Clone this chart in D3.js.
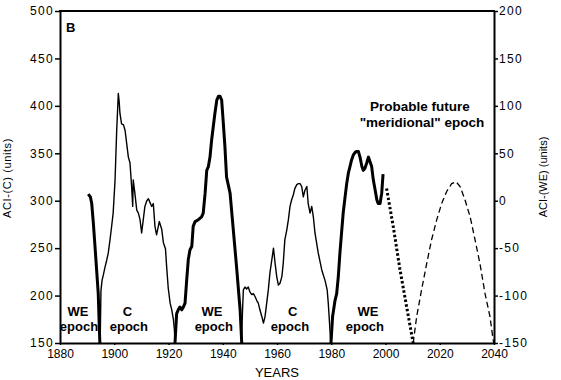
<!DOCTYPE html>
<html>
<head>
<meta charset="utf-8">
<script src="https://cdn.jsdelivr.net/npm/d3@7"></script>
<style>
  html, body { margin: 0; padding: 0; background: #fff; }
  svg { display: block; }
</style>
</head>
<body>
<svg id="chart" width="561" height="380"></svg>
<script>
// ---------- DATA ----------
// ACI-(C) series, left axis units
const cSeries1 = [
  [1894.8,150],[1895.1,205],[1895.5,216],[1896.0,222],[1896.6,230],[1897.2,237],[1897.8,245],
  [1898.4,258],[1899.0,272],[1899.6,287],[1900.3,322],[1900.9,374],[1901.3,400],[1901.5,413],
  [1901.8,405],[1902.1,392],[1902.7,381],[1903.4,380],[1904.0,374],[1904.6,360],[1905.2,346],
  [1905.8,340],[1906.4,315],[1906.8,294],[1907.0,322],[1907.3,315],[1907.6,308],[1908.3,290],
  [1908.9,287],[1909.5,280],[1910.1,266],[1910.7,280],[1911.3,294],[1912.0,300],[1912.6,302],
  [1913.2,298],[1913.8,294],[1914.4,297],[1915.0,273],[1915.6,264],[1916.6,278],[1917.5,270],
  [1918.1,256],[1918.9,249],[1919.3,231],[1919.9,208],[1920.6,192],[1921.2,185],[1921.8,175],
  [1922.2,163],[1922.4,150]
];
const cSeries2 = [
  [1946.9,150],[1947.3,185],[1947.6,206],[1948.2,209],[1948.8,207],[1949.4,209],[1950.0,204],
  [1950.7,201],[1951.3,202],[1951.9,199],[1952.5,195],[1953.1,192],[1953.7,185],[1954.4,178],
  [1955.0,171],[1955.6,178],[1956.2,192],[1956.8,206],[1957.4,224],[1958.1,238],[1958.7,250],
  [1959.3,234],[1959.9,220],[1960.5,211],[1961.1,213],[1961.8,220],[1962.3,234],[1962.9,259],
  [1963.6,269],[1964.2,280],[1964.8,294],[1965.4,301],[1966.0,306],[1966.6,313],[1967.3,317],
  [1967.9,318],[1968.5,318],[1969.1,315],[1969.7,304],[1970.3,311],[1971.0,315],[1971.5,297],
  [1972.2,287],[1972.8,294],[1973.4,283],[1974.0,266],[1975.2,245],[1976.5,227],[1977.7,216],
  [1978.5,206],[1978.9,192],[1979.3,174],[1979.8,150]
];
// ACI-(WE) series, right axis units
const weSeries1 = [
  [1890.4,7],[1891.2,4],[1891.7,-3],[1892.3,-24],[1892.9,-48],[1893.5,-73],[1894.1,-98],
  [1894.5,-135],[1894.7,-150]
];
const weSeries2 = [
  [1922.4,-150],[1923.0,-119],[1923.6,-115],[1924.2,-112],[1924.9,-115],[1925.5,-112],
  [1926.1,-108],[1926.7,-84],[1927.3,-62],[1927.9,-52],[1928.6,-48],[1929.1,-27],[1929.8,-22],
  [1931.0,-20],[1932.2,-17],[1932.8,-13],[1933.5,8],[1934.1,32],[1934.7,36],[1935.3,46],
  [1935.9,64],[1936.5,78],[1937.1,92],[1937.8,106],[1938.4,110],[1939.0,110],[1939.6,106],
  [1940.2,82],[1940.8,57],[1941.4,25],[1942.7,8],[1943.9,-31],[1945.1,-70],[1946.4,-115],
  [1947.0,-150]
];
const weSeries3 = [
  [1979.9,-150],[1980.5,-122],[1981.4,-105],[1982.0,-98],[1982.6,-80],[1983.2,-55],[1983.8,-34],
  [1984.4,-13],[1985.1,4],[1985.7,18],[1986.3,29],[1986.9,36],[1987.5,43],[1988.1,48],
  [1988.8,51],[1989.4,52],[1990.0,52],[1990.6,46],[1991.3,36],[1991.8,32],[1992.4,34],
  [1993.1,40],[1993.7,46],[1994.3,41],[1994.9,36],[1995.5,22],[1996.2,11],[1996.8,1],
  [1997.3,-3],[1998.0,-3],[1998.6,8],[1999.1,28]
];
const weDotted = [
  [2000.4,13],[2002.9,-28],[2005.3,-72],[2007.8,-112],[2010.2,-150]
];
const weDashed = [
  [2010.2,-150],[2011.5,-122],[2013.3,-94],[2015.2,-66],[2017.0,-41],[2018.9,-20],[2020.7,-3],
  [2022.6,10],[2024.4,18],[2026.0,20],[2027.5,15],[2029.3,1],[2031.2,-17],[2033.0,-41],
  [2034.8,-66],[2036.7,-98],[2038.5,-122],[2039.7,-147],[2039.9,-150]
];
const xTicks = [1880,1900,1920,1940,1960,1980,2000,2020,2040];
const yLeftTicks = [150,200,250,300,350,400,450,500];
const yRightTicks = [-150,-100,-50,0,50,100,150,200];
const epochLabels = [
  {top:"WE", bottom:"epoch", x:1886.6, xb:1887.0},
  {top:"C", bottom:"epoch", x:1904.9, xb:1905.4},
  {top:"WE", bottom:"epoch", x:1936.0, xb:1936.7},
  {top:"C", bottom:"epoch", x:1965.8, xb:1964.8},
  {top:"WE", bottom:"epoch", x:1993.5, xb:1992.4}
];

// ---------- LAYOUT ----------
const svg = d3.select("#chart");
const L = 60, R = 494, T = 11, B = 343;
const x = d3.scaleLinear().domain([1880,2040]).range([L,R]);
const yL = d3.scaleLinear().domain([150,500]).range([B,T]);
const yR = d3.scaleLinear().domain([-150,200]).range([B,T]);

svg.append("rect").attr("width",561).attr("height",380).attr("fill","#fff");

const lineL = d3.line().x(d=>x(d[0])).y(d=>yL(d[1]));
const lineR = d3.line().x(d=>x(d[0])).y(d=>yR(d[1]));

const g = svg.append("g");
[cSeries1, cSeries2].forEach(s => {
  g.append("path").attr("d", lineL(s)).attr("fill","none").attr("stroke","#000")
    .attr("stroke-width",1.4).attr("stroke-linejoin","round");
});
[weSeries1, weSeries2, weSeries3].forEach(s => {
  g.append("path").attr("d", lineR(s)).attr("fill","none").attr("stroke","#000")
    .attr("stroke-width",3).attr("stroke-linejoin","round");
});
g.append("path").attr("d", lineR(weDotted)).attr("fill","none").attr("stroke","#000")
  .attr("stroke-width",3).attr("stroke-dasharray","2.5,2.2");
g.append("path").attr("d", lineR(weDashed)).attr("fill","none").attr("stroke","#000")
  .attr("stroke-width",1.3).attr("stroke-dasharray","6,3.5");

// ---------- AXES ----------
const axL = svg.append("g").attr("transform",`translate(${L},0)`)
  .call(d3.axisLeft(yL).tickValues(yLeftTicks).tickSize(5).tickPadding(1).tickSizeOuter(0).tickFormat(d=>String(d)));
const axR = svg.append("g").attr("transform",`translate(${R},0)`)
  .call(d3.axisRight(yR).tickValues(yRightTicks).tickSize(4).tickPadding(1).tickSizeOuter(0).tickFormat(d=>String(d)));
const axB = svg.append("g").attr("transform",`translate(0,${B})`)
  .call(d3.axisBottom(x).tickValues(xTicks).tickSize(2).tickPadding(4).tickSizeOuter(0).tickFormat(d=>String(d)));

[axL, axR, axB].forEach(a => {
  a.select(".domain").attr("stroke","#000").attr("stroke-width",2);
  a.selectAll(".tick line").attr("stroke","#000").attr("stroke-width",1.5);
  a.selectAll("text").attr("fill","#000").attr("font-family","'Liberation Sans', Arial, sans-serif");
});
axL.selectAll("text").attr("font-size",12).attr("letter-spacing","1.3px");
axR.selectAll("text").attr("font-size",12).attr("letter-spacing","1.3px");
axB.selectAll("text").attr("font-size",12);

svg.append("line").attr("x1",L-1).attr("x2",R+1).attr("y1",T).attr("y2",T)
  .attr("stroke","#000").attr("stroke-width",2);

// ---------- TEXT ----------
const font = "'Liberation Sans', Arial, sans-serif";
svg.append("text").attr("x",66).attr("y",32).text("B")
  .attr("font-family",font).attr("font-weight","bold").attr("font-size",13);

epochLabels.forEach(e => {
  svg.append("text").attr("x",x(e.x)).attr("y",316).attr("text-anchor","middle")
    .attr("font-family",font).attr("font-weight","bold").attr("font-size",13).text(e.top);
  svg.append("text").attr("x",x(e.xb)).attr("y",331).attr("text-anchor","middle")
    .attr("font-family",font).attr("font-weight","bold").attr("font-size",13).text(e.bottom);
});

svg.append("text").attr("x",420).attr("y",111).attr("text-anchor","middle")
  .attr("font-family",font).attr("font-weight","bold").attr("font-size",13.5).text("Probable future");
svg.append("text").attr("x",422).attr("y",127).attr("text-anchor","middle")
  .attr("font-family",font).attr("font-weight","bold").attr("font-size",13.5).text("\"meridional\" epoch");

svg.append("text").attr("x",277).attr("y",377).attr("text-anchor","middle")
  .attr("font-family",font).attr("font-size",13).text("YEARS");

svg.append("text").attr("transform","translate(11,178) rotate(-90)").attr("text-anchor","middle")
  .attr("font-family",font).attr("font-size",11).attr("letter-spacing","0.6px").text("ACI-(C) (units)");
svg.append("text").attr("transform","translate(547,177) rotate(-90)").attr("text-anchor","middle")
  .attr("font-family",font).attr("font-size",11).text("ACI-(WE) (units)");
</script>
</body>
</html>
